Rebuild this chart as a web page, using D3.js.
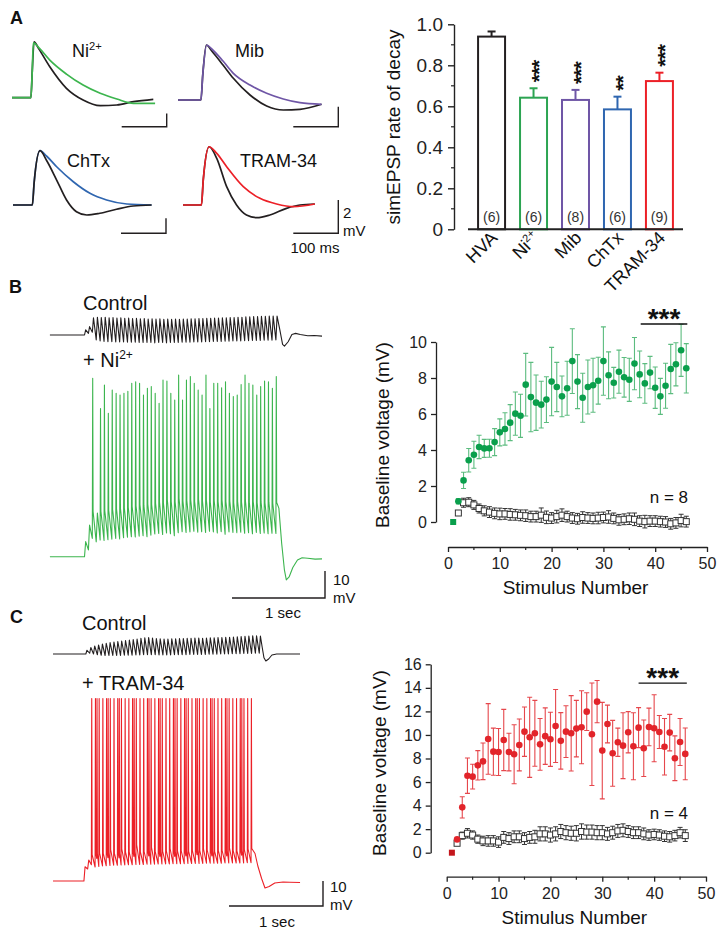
<!DOCTYPE html>
<html><head><meta charset="utf-8">
<script src="https://cdn.jsdelivr.net/npm/d3@7"></script>
<style>body{margin:0;background:#fff}</style>
</head><body>
<svg id="fig" width="726" height="939"></svg>
<script>
// ================= DATA =================
// Panel A bar chart
const barCategories = ["HVA", "Ni2+", "Mib", "ChTx", "TRAM-34"];
const barValues = [0.94, 0.642, 0.631, 0.585, 0.723];
const barErrors = [0.025, 0.046, 0.049, 0.062, 0.041];
const barCounts = ["(6)", "(6)", "(8)", "(6)", "(9)"];
const barStars = ["", "***", "***", "**", "***"];
const barTicks = [0, 0.2, 0.4, 0.6, 0.8, 1.0];
const barTickLabels = ["0", "0.2", "0.4", "0.6", "0.8", "1.0"];
const barMinorTicks = [0.1, 0.3, 0.5, 0.7, 0.9];

// Panel A simEPSP traces: [time ms, mV]
const niBlack = [[0,0],[42,0],[45,4],[49,8.4],[60,7.3],[84,4.65],[121,1.41],[158,-0.35],[196,-1.2],[233,-1.1],[270,-0.6],[314,-0.24]];
const niDrug = [[0,0],[42,0],[45,4],[47.5,8.25],[60,7.5],[84,5.65],[121,3.55],[158,1.9],[196,0.66],[233,-0.2],[270,-0.84],[318,-0.84]];
const mibBlack = [[0,0],[51,0],[55,2.5],[63,5.5],[75,4.9],[100,3.5],[123,2.17],[160,0.5],[197,-0.6],[234,-1.0],[271,-0.93],[319,-0.43]];
const mibDrug = [[0,0],[51,0],[55,2.5],[64,5.5],[75,5.1],[100,3.9],[123,2.67],[160,1.5],[197,0.67],[234,0.1],[271,-0.27],[319,-0.43]];
const chtxBlack = [[0,0],[43,0],[47,3],[60,7.24],[75,5.9],[97,3.33],[119,0.67],[141,-0.89],[164,-1.33],[193,-1.1],[230,-0.57],[267,-0.13],[308,0]];
const chtxDrug = [[0,0],[43,0],[47,3],[60,7.24],[75,6.5],[97,5.1],[134,3.1],[171,1.56],[208,0.67],[253,0.13],[308,0]];
const tramBlack = [[0,0],[41,0],[45,1.5],[58,3.5],[75,2.8],[97,1.1],[119,0],[141,-0.6],[164,-0.76],[193,-0.6],[230,-0.2],[260,0],[293,0.06]];
const tramDrug = [[0,0],[41,0],[45,1.5],[58,3.5],[75,3.1],[97,2.3],[134,1.1],[171,0.4],[208,0.06],[245,-0.1],[293,0.06]];

// Panel B / C scatter: stimulus numbers
const stimulusNumbers = [1,2,3,4,5,6,7,8,9,10,11,12,13,14,15,16,17,18,19,20,21,22,23,24,25,26,27,28,29,30,31,32,33,34,35,36,37,38,39,40,41,42,43,44,45,46];
const niMean = [0,1.15,2.31,3.43,3.74,4.17,4.09,4.1,4.44,4.98,5.17,5.52,6.02,5.9,7.63,6.94,6.63,6.52,6.8,7.8,7.5,6.98,7.43,8.94,7.8,6.9,7.5,7.6,7.85,8.94,8.15,7.74,8.35,8.04,7.9,8.8,8.2,7.7,8.3,7.46,6.98,7.57,8.5,8.76,9.54,8.54];
const niSem = [0,0.15,0.45,0.65,0.75,0.65,0.5,0.5,0.75,0.75,0.9,1.0,1.2,1.2,1.74,1.93,1.54,1.3,1.27,1.9,1.37,1.13,1.5,1.8,1.5,1.36,1.5,1.5,1.3,1.9,1.3,0.85,1.2,1.1,1.2,1.45,1.3,1.1,0.9,1.15,1.0,1.25,1.37,1.2,1.45,1.37];
const ctlBMean = [0,0.5,1.07,1.1,0.95,0.75,0.62,0.55,0.48,0.45,0.45,0.42,0.4,0.37,0.35,0.3,0.3,0.38,0.26,0.22,0.3,0.38,0.3,0.22,0.18,0.25,0.22,0.2,0.22,0.25,0.28,0.2,0.12,0.15,0.18,0.15,0.05,0.02,0.05,0.05,0.02,0,-0.1,-0.05,0.08,0.02];
const ctlBSem = [0,0.1,0.25,0.25,0.25,0.25,0.28,0.3,0.3,0.32,0.3,0.32,0.3,0.3,0.32,0.3,0.3,0.4,0.35,0.3,0.35,0.35,0.3,0.3,0.3,0.32,0.3,0.3,0.32,0.3,0.35,0.3,0.3,0.3,0.32,0.35,0.3,0.35,0.3,0.3,0.3,0.3,0.3,0.3,0.35,0.3];
const tramMean = [0,1.13,3.85,6.54,6.46,7.42,7.76,9.66,8.58,8.55,9.57,8.55,8.36,9.15,10.28,9.8,10.14,9.2,9.9,9.63,10.76,9.5,10.28,10.14,10.54,10.65,11.98,10.06,12.83,8.67,10.93,8.44,9.38,9.09,10.23,9.04,10.62,8.87,10.68,10.57,10.25,9.0,10.2,8.02,9.4,8.39];
const tramSem = [0,0.1,0.9,1.5,1.05,1.25,1.55,3.0,2.0,2.0,2.6,1.6,2.5,2.2,2.1,3.4,2.8,2.2,2.4,2.3,3.1,2.4,2.2,3.2,2.4,3.1,1.6,4.35,1.8,4.1,1.6,2.8,1.2,2.8,1.75,2.85,1.7,2.4,1.6,2.85,1.4,2.4,1.55,1.9,2.0,2.2];
const ctlCMean = [0,0.8,1.45,1.65,1.5,1.15,1.0,1.0,1.0,0.9,1.3,1.2,1.35,1.35,1.2,1.3,1.35,1.6,1.6,1.5,1.6,1.8,1.7,1.65,1.65,1.8,1.75,1.75,1.7,1.7,1.6,1.7,1.85,1.9,1.8,1.7,1.7,1.6,1.5,1.55,1.5,1.4,1.35,1.45,1.7,1.45];
const ctlCSem = [0,0.15,0.3,0.4,0.35,0.35,0.4,0.45,0.45,0.45,0.5,0.5,0.5,0.5,0.5,0.5,0.55,0.6,0.6,0.6,0.6,0.6,0.6,0.6,0.65,0.65,0.6,0.6,0.6,0.6,0.55,0.55,0.55,0.55,0.5,0.5,0.5,0.5,0.45,0.45,0.45,0.45,0.45,0.45,0.45,0.5];
const scatterXTicks = [0,10,20,30,40,50];
const scatterXMinor = [5,15,25,35,45];
const bYTicks = [0,2,4,6,8,10];
const cYTicks = [0,2,4,6,8,10,12,14,16];
const sigB = [37.2, 46.2, 11.0];   // from stim, to stim, level (mV)
const sigC = [37.0, 46.3, 14.4];

// Panel B traces (mV relative to rest), one value per stimulus
const bCtlPeaks = [1.9,3.1,6.4,6.6,6.5,6.6,6.4,6.5,6.3,6.4,6.2,6.3,6.1,6.2,6.0,6.1,5.9,6.0,5.9,6.0,5.8,5.9,5.8,5.9,5.8,5.9,5.9,6.0,6.0,6.1,6.1,6.2,6.2,6.3,6.3,6.4,6.4,6.5,6.5,6.6,6.6,6.7,6.7,6.8,6.8,6.9,6.9,7.0,7.0,7.0];
const bCtlTroughs = [0.6,1.0,-1.8,-2.2,-2.4,-2.5,-2.5,-2.6,-2.6,-2.6,-2.7,-2.7,-2.7,-2.8,-2.8,-2.8,-2.8,-2.9,-2.8,-2.8,-2.9,-2.8,-2.8,-2.8,-2.7,-2.7,-2.7,-2.6,-2.6,-2.6,-2.5,-2.5,-2.4,-2.4,-2.4,-2.3,-2.3,-2.2,-2.2,-2.2,-2.1,-2.1,-2.0,-2.0,-2.0,-1.9,-1.9,-1.9,-1.8,-1.8];
const bCtlTail = [[2100,2],[2130,-3.5],[2150,-4.1],[2190,-2.5],[2230,0.2],[2270,0.6],[2320,0.2],[2400,-0.3],[2470,-0.2],[2554,-0.4]];
const bNiPeaks = [5.6,11.7,16.7,16.2,16.8,17.0,17.2,17.5,17.6,17.9,18.0,18.3,18.6,18.8,19.2,19.0,19.5,19.3,19.8,20.2,19.9,21.2,20.5,20.3,21.6,20.6,20.8,21.0,20.4,21.2,20.6,21.0,20.2,20.8,20.4,21.0,20.4,20.6,20.0,20.5,20.2,20.7,20.1,20.4,20.0,20.3,20.0,20.2,19.9,20.1];
const bNiTroughs = [2.5,6.8,5.5,6.2,6.0,6.3,6.5,6.8,6.6,7.0,7.2,7.4,7.3,7.6,7.8,7.4,8.0,8.4,8.6,8.2,8.8,8.5,7.8,8.9,9.3,9.0,9.2,9.4,9.1,9.3,9.0,9.4,9.2,8.8,9.3,8.3,9.2,9.0,8.9,9.1,8.7,8.9,8.5,9.0,8.6,8.8,8.5,8.7,8.6,8.6];
const bNiSpikes = [null,null,66.1,null,54.9,63.6,53.1,61.7,60.5,59.9,60.5,61.3,64.2,64.8,64.2,59.9,62.4,63.0,60.5,56.8,65.4,65.1,60.5,58.0,67.3,58.0,65.4,66.7,64.2,61.7,59.9,67.3,54.9,64.2,64.2,62.6,64.8,60.5,59.3,59.9,63.8,67.3,64.2,63.6,59.9,63.0,65.1,64.8,62.4,66.7];
const bNiTail = [[2090,18],[2120,5],[2150,-5],[2170,-8.6],[2200,-7.5],[2240,-4.0],[2290,-1.2],[2340,-0.4],[2400,-0.6],[2480,-0.9],[2554,-0.8]];

// Panel C traces
const cCtlPeaks = [1.5,2.6,3.2,3.6,4.0,4.3,4.6,4.8,5.0,5.2,5.4,5.6,5.8,6.0,6.3,6.5,6.6,6.4,6.2,6.1,6.0,6.0,6.1,6.1,6.2,6.2,6.3,6.3,6.4,6.4,6.3,6.4,6.5,6.5,6.6,6.6,6.7,6.7,6.8,6.9,7.0,7.1,7.2,7.3,7.3,7.2];
const cCtlTroughs = [0.3,0.0,-0.3,-0.5,-0.6,-0.6,-0.6,-0.6,-0.6,-0.5,-0.5,-0.5,-0.4,-0.4,-0.3,-0.3,-0.3,-0.3,-0.4,-0.4,-0.4,-0.4,-0.3,-0.3,-0.3,-0.3,-0.2,-0.2,-0.2,-0.2,-0.2,-0.1,-0.1,-0.1,0.0,0.0,0.0,0.1,0.1,0.1,0.2,0.2,0.2,0.3,0.3,0.3];
const cCtlTail = [[1905,3],[1925,-1.5],[1945,-2.8],[1975,-2.0],[2010,-0.4],[2060,0.0],[2200,0.0],[2309,0.0]];
const cTramPeaks = [5.7,8.4,10.5,11.0,11.2,11.0,11.3,12.5,11.0,11.2,12.8,11.5,11.4,11.8,14.5,11.6,11.8,12.0,13.5,11.7,11.8,11.9,12.0,13.0,11.8,11.9,12.1,12.0,11.8,12.2,12.5,12.2,12.8,12.4,12.0,11.8,12.1,12.3,12.0,13.2,12.1,12.0,12.3,12.6,12.8,13.0];
const cTramTroughs = [4.8,6.5,5.6,5.8,6.0,6.1,6.2,6.3,6.3,6.4,6.4,6.5,6.5,6.6,6.6,6.6,6.7,6.7,6.7,6.8,6.8,6.8,6.8,6.9,6.9,6.9,6.9,7.0,7.0,7.0,7.0,7.0,7.1,7.1,7.1,7.1,7.1,7.2,7.2,7.2,7.2,7.2,7.2,7.3,7.3,7.3];
const cTramSpikes = [null,null,73,73,73,73,73,73,73,73,73,73,73,73,73,73,73,73,73,73,73,73,73,73,73,73,73,73,73,73,73,73,73,73,73,73,73,73,73,73,73,73,73,73,73,73];
const cTramDoublets = [4,7,10,14,18,21,25,28,31,35,39,43];
const cTramTail = [[1830,11],[1860,6],[1900,1],[1936,-2.8],[1980,-2.2],[2040,-0.8],[2128,-0.4],[2200,-0.5],[2309,-0.6]];

// ================= DRAWING =================
const FONT = "'Liberation Sans', Arial, Helvetica, sans-serif";
const svg = d3.select("#fig").attr("font-family", FONT);
const C = {
  black: "#231f20", green: "#3cb54e", greenDot: "#0a9f4c", greenErr: "#5cbc7f",
  purple: "#6f56a6", blue: "#2f66b0", red: "#ec2027", redDot: "#e2242a", redErr: "#e6474c",
  barGreen: "#2ca452"
};

function txt(x, y, s, size, opts = {}) {
  const t = svg.append("text").attr("x", x).attr("y", y).attr("font-size", size)
    .attr("fill", opts.fill || "#111").attr("text-anchor", opts.anchor || "start").text(s);
  if (opts.weight) t.attr("font-weight", opts.weight);
  return t;
}
function supText(x, y, base, sup, size, anchor) {
  const t = svg.append("text").attr("x", x).attr("y", y).attr("font-size", size).attr("fill", "#111")
    .attr("text-anchor", anchor || "start");
  t.append("tspan").text(base);
  t.append("tspan").attr("dy", -size * 0.38).attr("font-size", size * 0.62).text(sup);
  return t;
}

// ---------- Panel labels ----------
txt(10, 24, "A", 18, {weight: "bold"});
txt(9, 293, "B", 18, {weight: "bold"});
txt(10, 623, "C", 18, {weight: "bold"});

// ---------- Panel A traces ----------
const epspPanels = [
  {x0: 12, y0: 97.7, pxPer2mV: 13.3, black: niBlack, drug: niDrug, col: C.green, blackTop: false, sb: [166.7, 126.7]},
  {x0: 178, y0: 100, pxPer2mV: 20, black: mibBlack, drug: mibDrug, col: C.purple, blackTop: false, sb: [338.3, 126.7]},
  {x0: 13, y0: 205, pxPer2mV: 15, black: chtxBlack, drug: chtxDrug, col: C.blue, blackTop: true, sb: [166, 233.3]},
  {x0: 183, y0: 205, pxPer2mV: 33.3, black: tramBlack, drug: tramDrug, col: C.red, blackTop: false, sb: [338.3, 233.3]}
];
epspPanels.forEach(p => {
  const x = d3.scaleLinear().domain([0, 100]).range([p.x0, p.x0 + 45]);
  const y = d3.scaleLinear().domain([0, 2]).range([p.y0, p.y0 - p.pxPer2mV]);
  const line = d3.line().x(d => x(d[0])).y(d => y(d[1])).curve(d3.curveMonotoneX);
  const drawB = () => svg.append("path").attr("d", line(p.black)).attr("fill", "none").attr("stroke", C.black).attr("stroke-width", 1.7);
  const drawD = () => svg.append("path").attr("d", line(p.drug)).attr("fill", "none").attr("stroke", p.col).attr("stroke-width", 1.7);
  if (p.blackTop) { drawD(); drawB(); } else { drawB(); drawD(); }
  const w = x(100) - x(0), h = y(0) - y(2);
  svg.append("path").attr("d", `M${p.sb[0] - w},${p.sb[1]}H${p.sb[0]}V${p.sb[1] - h}`)
    .attr("fill", "none").attr("stroke", C.black).attr("stroke-width", 1.4);
});
supText(72, 57, "Ni", "2+", 18);
txt(235, 57, "Mib", 18);
txt(67, 167, "ChTx", 18);
txt(240, 167, "TRAM-34", 18);
txt(343, 218, "2", 15);
txt(343, 236, "mV", 15);
txt(315, 253, "100 ms", 15, {anchor: "middle"});

// ---------- Panel A bar chart ----------
(function () {
  const y = d3.scaleLinear().domain([0, 1]).range([229.3, 24.3]);
  const x = d3.scaleBand().domain(barCategories).range([468, 683]).paddingInner(0.357).paddingOuter(0.24);
  const cols = [C.black, C.barGreen, C.purple, C.blue, C.red];
  const g = svg.append("g");
  const ax = g.append("g").attr("transform", "translate(454,0)")
    .call(d3.axisLeft(y).tickValues(barTicks).tickFormat((d, i) => barTickLabels[i]).tickSize(6).tickSizeOuter(0).tickPadding(5));
  ax.attr("font-family", FONT).attr("font-size", 19);
  ax.selectAll("text").attr("fill", "#222");
  ax.selectAll("line,path").attr("stroke", "#222").attr("stroke-width", 1.4);
  g.selectAll(".minor").data(barMinorTicks).join("line")
    .attr("x1", 451).attr("x2", 454).attr("y1", d => y(d)).attr("y2", d => y(d)).attr("stroke", "#222").attr("stroke-width", 1.2);
  barCategories.forEach((c, i) => {
    const bx = x(c), bw = x.bandwidth(), cx = bx + bw / 2;
    const top = y(barValues[i] + barErrors[i]);
    g.append("line").attr("x1", cx).attr("x2", cx).attr("y1", y(barValues[i])).attr("y2", top)
      .attr("stroke", cols[i]).attr("stroke-width", 2);
    g.append("line").attr("x1", cx - 4).attr("x2", cx + 4).attr("y1", top).attr("y2", top)
      .attr("stroke", cols[i]).attr("stroke-width", 2);
    g.append("rect").attr("x", bx).attr("y", y(barValues[i])).attr("width", bw).attr("height", y(0) - y(barValues[i]))
      .attr("fill", "#fff").attr("stroke", cols[i]).attr("stroke-width", 2);
    g.append("text").attr("x", cx).attr("y", y(0) - 7).attr("text-anchor", "middle").attr("font-size", 14).attr("fill", "#333").text(barCounts[i]);
    if (barStars[i]) {
      g.append("text").attr("transform", `translate(${cx},${top - 6}) rotate(-90)`)
        .attr("dy", "0.58em").attr("font-size", 21).attr("font-weight", "bold").attr("fill", "#111").attr("letter-spacing", "-1").text(barStars[i]);
    }
    const lab = g.append("text").attr("transform", `translate(${cx + 7},${239}) rotate(-45)`)
      .attr("text-anchor", "end").attr("font-size", 18).attr("fill", "#111");
    if (c === "Ni2+") {
      lab.append("tspan").text("Ni");
      lab.append("tspan").attr("dy", -7).attr("font-size", 11).text("2+");
    } else lab.text(c);
  });
  g.append("line").attr("x1", 468).attr("x2", 683).attr("y1", y(0)).attr("y2", y(0)).attr("stroke", "#222").attr("stroke-width", 2);
  g.append("text").attr("transform", "translate(400,127) rotate(-90)").attr("text-anchor", "middle").attr("font-size", 19).attr("fill", "#111")
    .text("simEPSP rate of decay");
})();

// ---------- Trace builder ----------
function buildTrain(stimTimes, period, peaks, troughs, spikes, doublets, preStart, tail) {
  const pts = [[preStart, 0], [stimTimes[0], 0]];
  const dbl = new Set(doublets || []);
  stimTimes.forEach((t, i) => {
    const sp = spikes ? spikes[i] : null;
    if (sp != null) {
      pts.push([t + 0.1 * period, sp]);
      pts.push([t + 0.2 * period, peaks[i]]);
      if (dbl.has(i + 1)) {
        pts.push([t + 0.45 * period, peaks[i] - 2]);
        pts.push([t + 0.52 * period, sp]);
        pts.push([t + 0.62 * period, peaks[i]]);
      }
    } else {
      pts.push([t + 0.3 * period, peaks[i]]);
    }
    if (i < stimTimes.length - 1) pts.push([stimTimes[i + 1], troughs[i]]);
  });
  tail.forEach(d => pts.push(d));
  return pts;
}
function drawTrace(x, y, pts, color, width) {
  const line = d3.line().x(d => x(d[0])).y(d => y(d[1]));
  svg.append("path").attr("d", line(pts)).attr("fill", "none").attr("stroke", color).attr("stroke-width", width).attr("stroke-linejoin", "round");
}

// ---------- Panel B traces ----------
(function () {
  const period = 42;
  const stim = bCtlPeaks.map((_, i) => i * period);
  const x = d3.scaleLinear().domain([0, 1000]).range([84.5, 84.5 + 93]);
  const yCtl = d3.scaleLinear().domain([0, 10]).range([335, 308]);
  const yNi = d3.scaleLinear().domain([0, 10]).range([556.7, 529.7]);
  drawTrace(x, yCtl, buildTrain(stim, period, bCtlPeaks, bCtlTroughs, null, null, -372, bCtlTail), C.black, 1.1);
  drawTrace(x, yNi, buildTrain(stim, period, bNiPeaks, bNiTroughs, bNiSpikes, null, -372, bNiTail), C.green, 1.1);
  const w = x(1000) - x(0), h = yNi(0) - yNi(10);
  svg.append("path").attr("d", `M${325 - w},598H325V${598 - h}`)
    .attr("fill", "none").attr("stroke", C.black).attr("stroke-width", 1.4);
  txt(333, 585, "10", 15);
  txt(333, 603, "mV", 15);
  txt(283, 618, "1 sec", 15, {anchor: "middle"});
  txt(83, 310, "Control", 20);
  const t = svg.append("text").attr("x", 83).attr("y", 367).attr("font-size", 20).attr("fill", "#111");
  t.append("tspan").text("+ Ni");
  t.append("tspan").attr("dy", -8).attr("font-size", 12).text("2+");
})();

// ---------- Panel C traces ----------
(function () {
  const period = 41;
  const stimCtl = cCtlPeaks.map((_, i) => 30 + i * period);
  const stimTram = cTramPeaks.map((_, i) => 10 + i * 39.5);
  const x = d3.scaleLinear().domain([0, 1000]).range([83, 83 + 94]);
  const yCtl = d3.scaleLinear().domain([0, 10]).range([654, 629]);
  const yTram = d3.scaleLinear().domain([0, 10]).range([881, 856]);
  drawTrace(x, yCtl, buildTrain(stimCtl, period, cCtlPeaks, cCtlTroughs, null, null, -319, cCtlTail), C.black, 1.1);
  drawTrace(x, yTram, buildTrain(stimTram, 39.5, cTramPeaks, cTramTroughs, cTramSpikes, cTramDoublets, -319, cTramTail), C.red, 1.1);
  const w = x(1000) - x(0), h = yTram(0) - yTram(10);
  svg.append("path").attr("d", `M${323 - w},906H323V${906 - h}`)
    .attr("fill", "none").attr("stroke", C.black).attr("stroke-width", 1.4);
  txt(330, 892, "10", 15);
  txt(330, 910, "mV", 15);
  txt(277, 927, "1 sec", 15, {anchor: "middle"});
  txt(82, 630, "Control", 20);
  txt(82, 690, "+ TRAM-34", 20);
})();

// ---------- Scatter panels ----------
function scatterPanel(cfg) {
  const x = d3.scaleLinear().domain([0, 50]).range([cfg.x0, cfg.x1]);
  const y = d3.scaleLinear().domain([0, cfg.yMax]).range([cfg.y0, cfg.y1]);
  const g = svg.append("g");
  const ay = g.append("g").attr("transform", `translate(${cfg.axX},0)`)
    .call(d3.axisLeft(y).tickValues(cfg.yTicks).tickSize(5).tickSizeOuter(0).tickPadding(4));
  ay.attr("font-family", FONT).attr("font-size", 16);
  ay.selectAll("text").attr("fill", "#222");
  ay.selectAll("line,path").attr("stroke", "#222").attr("stroke-width", 1.3);
  const axx = g.append("g").attr("transform", `translate(0,${cfg.axY})`)
    .call(d3.axisBottom(x).tickValues(scatterXTicks).tickSize(5).tickSizeOuter(0).tickPadding(6));
  axx.attr("font-family", FONT).attr("font-size", 16);
  axx.selectAll("text").attr("fill", "#222");
  axx.selectAll("line,path").attr("stroke", "#222").attr("stroke-width", 1.3);
  g.selectAll(".mx").data(scatterXMinor).join("line")
    .attr("x1", d => x(d)).attr("x2", d => x(d)).attr("y1", cfg.axY).attr("y2", cfg.axY + 3).attr("stroke", "#222").attr("stroke-width", 1.2);
  g.append("text").attr("x", (cfg.x0 + cfg.x1) / 2 - 2).attr("y", cfg.axY + 47).attr("text-anchor", "middle").attr("font-size", 19).attr("fill", "#111").text("Stimulus Number");
  g.append("text").attr("transform", `translate(${cfg.labX},${cfg.labY}) rotate(-90)`).attr("text-anchor", "middle").attr("font-size", 19).attr("fill", "#111").text("Baseline voltage (mV)");

  const cap = 2.5;
  stimulusNumbers.forEach((n, i) => {
    const cx = x(n), m = cfg.ctlMean[i], s = cfg.ctlSem[i];
    if (s > 0) {
      g.append("path").attr("d", `M${cx},${y(m + s)}V${y(m - s)}M${cx - cap},${y(m + s)}h${2 * cap}M${cx - cap},${y(m - s)}h${2 * cap}`)
        .attr("stroke", "#333").attr("stroke-width", 1).attr("fill", "none");
    }
  });
  stimulusNumbers.forEach((n, i) => {
    const cx = x(n), m = cfg.mean[i], s = cfg.sem[i];
    if (s > 0.12) {
      g.append("path").attr("d", `M${cx},${y(m + s)}V${y(m - s)}M${cx - cap},${y(m + s)}h${2 * cap}M${cx - cap},${y(m - s)}h${2 * cap}`)
        .attr("stroke", cfg.errCol).attr("stroke-width", 1.1).attr("fill", "none");
    }
  });
  stimulusNumbers.forEach((n, i) => {
    if (i === 0) return;
    g.append("rect").attr("x", x(n) - 3).attr("y", y(cfg.ctlMean[i]) - 3).attr("width", 6).attr("height", 6)
      .attr("fill", "#fff").attr("stroke", "#333").attr("stroke-width", 1);
  });
  stimulusNumbers.forEach((n, i) => {
    if (i === 0) {
      g.append("rect").attr("x", x(n) - 3).attr("y", y(cfg.mean[i]) - 3).attr("width", 6).attr("height", 6).attr("fill", cfg.sqCol);
    } else {
      g.append("circle").attr("cx", x(n)).attr("cy", y(cfg.mean[i])).attr("r", 3.3).attr("fill", cfg.dotCol);
    }
  });
  g.append("line").attr("x1", x(cfg.sig[0])).attr("x2", x(cfg.sig[1])).attr("y1", y(cfg.sig[2])).attr("y2", y(cfg.sig[2]))
    .attr("stroke", "#111").attr("stroke-width", 1.4);
  g.append("text").attr("x", (x(cfg.sig[0]) + x(cfg.sig[1])) / 2).attr("y", y(cfg.sig[2]) + 4).attr("text-anchor", "middle")
    .attr("font-size", 28).attr("font-weight", "bold").attr("fill", "#111").text("***");
  g.append("text").attr("x", cfg.nX).attr("y", cfg.nY).attr("text-anchor", "end").attr("font-size", 17).attr("fill", "#111").text(cfg.nText);
}
scatterPanel({x0: 448, x1: 707, y0: 522, y1: 342, yMax: 10, yTicks: bYTicks, axX: 436, axY: 547, labX: 389, labY: 435,
  mean: niMean, sem: niSem, ctlMean: ctlBMean, ctlSem: ctlBSem, dotCol: C.greenDot, errCol: C.greenErr, sqCol: C.greenDot,
  sig: sigB, nX: 688, nY: 503, nText: "n = 8"});
scatterPanel({x0: 446.7, x1: 706, y0: 852.7, y1: 664.3, yMax: 16, yTicks: cYTicks, axX: 430.7, axY: 876.7, labX: 386, labY: 763,
  mean: tramMean, sem: tramSem, ctlMean: ctlCMean, ctlSem: ctlCSem, dotCol: C.redDot, errCol: C.redErr, sqCol: "#c4161c",
  sig: sigC, nX: 688, nY: 819, nText: "n = 4"});
</script>
</body></html>
